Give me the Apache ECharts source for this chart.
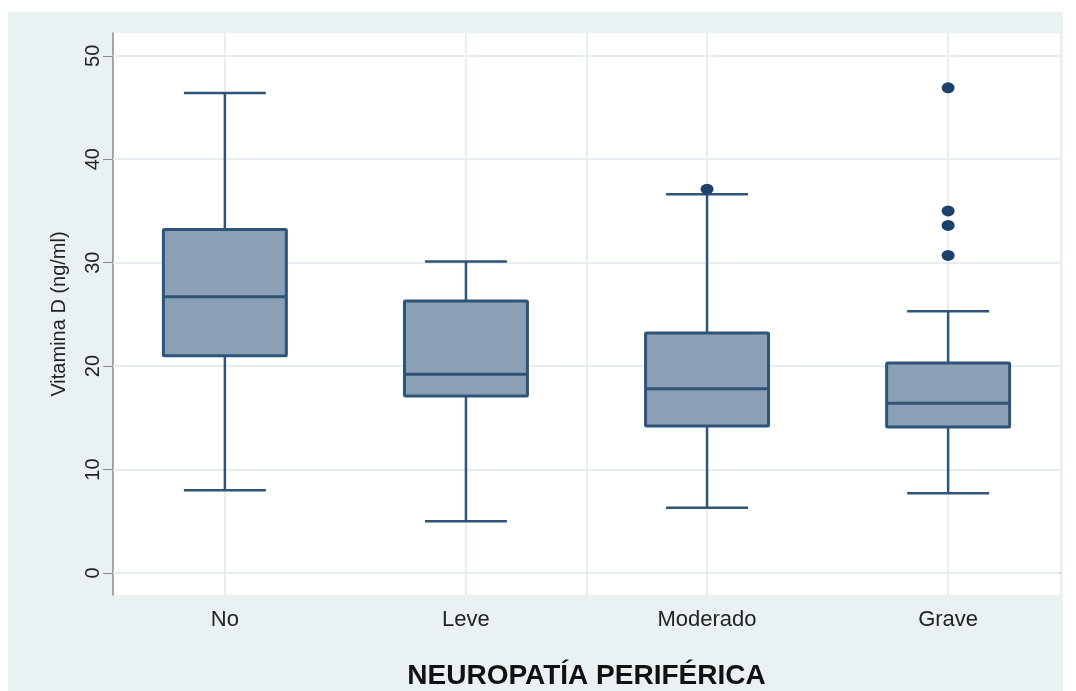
<!DOCTYPE html>
<html>
<head>
<meta charset="utf-8">
<script src="https://cdn.jsdelivr.net/npm/echarts@6/dist/echarts.min.js"></script>
<style>
  html, body { margin: 0; padding: 0; background: #ffffff; }
  #bg { position: absolute; left: 8px; top: 12px; width: 1055px; height: 679px; background: #e9f1f3; }
  #chart { position: absolute; left: 0; top: 0; width: 1076px; height: 691px; }
</style>
</head>
<body>
<div id="bg"></div>
<div id="chart"></div>
<script>
// ---- data ----
const categories = ['No', 'Leve', 'Moderado', 'Grave'];
const lowWhisker = [8.0, 5.0, 6.3, 7.7];
const q1 = [21.0, 17.1, 14.2, 14.1];
const median = [26.7, 19.2, 17.8, 16.4];
const q3 = [33.2, 26.3, 23.2, 20.3];
const highWhisker = [46.4, 30.1, 36.6, 25.3];
const outlierCategory = ['Moderado', 'Grave', 'Grave', 'Grave', 'Grave'];
const outlierValues = [37.1, 46.9, 35.0, 33.6, 30.7];
const yTicks = [0, 10, 20, 30, 40, 50];
const xGridLines = [1, 2, 2.5, 3, 4];
const xTickMarks = [2.5];

const boxData = categories.map((c, i) => [i + 1, lowWhisker[i], q1[i], median[i], q3[i], highWhisker[i]]);
const outlierData = outlierValues.map((v, i) => [categories.indexOf(outlierCategory[i]) + 1, v]);

const BOX_W = 0.51, CAP_W = 0.34;
const edge = '#2e5479';

const chart = echarts.init(document.getElementById('chart'), null, { renderer: 'canvas' });
chart.setOption({
  backgroundColor: 'transparent',
  animation: false,
  textStyle: { fontFamily: 'Liberation Sans, Arial, sans-serif' },
  grid: { left: 113, right: 16, top: 33, bottom: 96, outerBoundsMode: 'none', containLabel: false,
          show: true, backgroundColor: '#ffffff', borderWidth: 0, borderColor: 'transparent' },
  xAxis: {
    type: 'value', min: 0.536, max: 4.464,
    name: 'NEUROPATÍA PERIFÉRICA', nameLocation: 'middle', nameGap: 67,
    nameTextStyle: { fontSize: 28, fontWeight: 'bold', color: '#111111' },
    axisLine: { show: true, lineStyle: { color: '#8a8a8a', width: 1.5 } },
    axisTick: { show: true, customValues: xTickMarks, inside: true, length: 6, lineStyle: { color: '#8a8a8a' } },
    axisLabel: { customValues: [1, 2, 3, 4], formatter: v => categories[Math.round(v) - 1] || '', fontSize: 22, color: '#222222', margin: 14 },
    splitLine: { show: false }
  },
  yAxis: {
    type: 'value', min: -2.13, max: 52.2,
    name: 'Vitamina D (ng/ml)', nameLocation: 'middle', nameGap: 44, nameRotate: 90,
    nameTextStyle: { fontSize: 20, color: '#222222' },
    axisLine: { show: true, lineStyle: { color: '#8a8a8a', width: 1.5 } },
    axisTick: { show: true, customValues: yTicks, length: 10, lineStyle: { color: '#8a8a8a' } },
    axisLabel: { customValues: yTicks, rotate: 90, fontSize: 20, color: '#222222', margin: 10 },
    splitLine: { show: false }
  },
  series: [
    {
      type: 'custom',
      z: 3,
      data: boxData,
      renderItem: function (params, api) {
        const x = api.value(0);
        const pLow = api.coord([x, api.value(1)]);
        const pQ1 = api.coord([x, api.value(2)]);
        const pMed = api.coord([x, api.value(3)]);
        const pQ3 = api.coord([x, api.value(4)]);
        const pHigh = api.coord([x, api.value(5)]);
        const bw = api.size([BOX_W, 0])[0];
        const cw = api.size([CAP_W, 0])[0];
        const cx = pQ1[0];
        const ls = { stroke: edge, lineWidth: 2.5 };
        return {
          type: 'group',
          children: [
            { type: 'line', shape: { x1: cx, y1: pLow[1], x2: cx, y2: pQ1[1] }, style: ls },
            { type: 'line', shape: { x1: cx, y1: pQ3[1], x2: cx, y2: pHigh[1] }, style: ls },
            { type: 'line', shape: { x1: cx - cw / 2, y1: pLow[1], x2: cx + cw / 2, y2: pLow[1] }, style: ls },
            { type: 'line', shape: { x1: cx - cw / 2, y1: pHigh[1], x2: cx + cw / 2, y2: pHigh[1] }, style: ls },
            { type: 'rect', shape: { x: cx - bw / 2, y: pQ3[1], width: bw, height: pQ1[1] - pQ3[1], r: 1 },
              style: { fill: '#8ca0b5', stroke: edge, lineWidth: 3 } },
            { type: 'line', shape: { x1: cx - bw / 2, y1: pMed[1], x2: cx + bw / 2, y2: pMed[1] }, style: { stroke: edge, lineWidth: 3 } }
          ]
        };
      }
    },
    {
      type: 'scatter',
      z: 4,
      data: outlierData,
      symbol: 'circle',
      symbolSize: [13, 11],
      itemStyle: { color: '#1c416b', opacity: 1 },
      markLine: {
        z: 1, silent: true, symbol: ['none', 'none'],
        label: { show: false },
        lineStyle: { color: '#e6eef1', width: 2, type: 'solid' },
        data: yTicks.map(v => ({ yAxis: v })).concat(xGridLines.map(v => ({ xAxis: v })))
      }
    }
  ]
});
</script>
</body>
</html>
